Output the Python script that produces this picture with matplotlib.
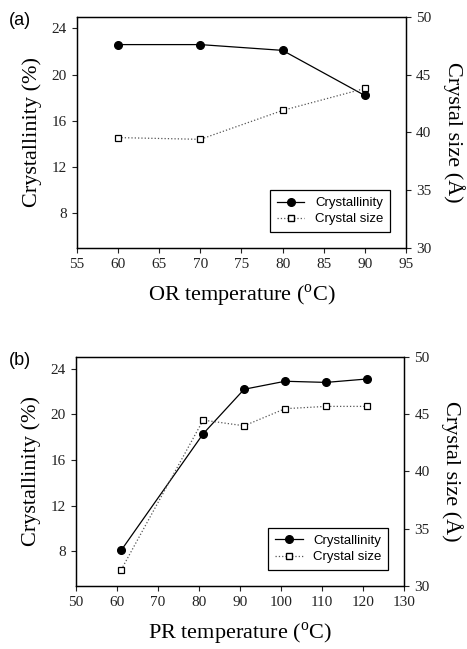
import matplotlib.pyplot as plt
from matplotlib.lines import Line2D

# (a) OR temperature
or_temp = [60, 70, 80, 90]
or_cryst = [22.6, 22.6, 22.1, 18.2]
or_size = [39.55, 39.4, 41.9, 43.8]

# (b) PR temperature
pr_temp = [61, 81, 91, 101, 111, 121]
pr_cryst = [8.1, 18.3, 22.2, 22.9, 22.8, 23.1]
pr_size = [31.4, 44.5, 44.0, 45.5, 45.7, 45.7]

serif = ['Liberation Serif', 'DejaVu Serif']
sans = ['Liberation Sans', 'DejaVu Sans']

plt.rcParams['mathtext.fontset'] = 'custom'
plt.rcParams['mathtext.rm'] = 'Liberation Serif'

fig = plt.figure(figsize=(4.67, 6.49), dpi=100)


def panel(rect, x, cryst, size, xlim, xticks, xlabel, tag):
    ax = fig.add_axes(rect)
    ax2 = ax.twinx()
    ax.plot(x, cryst, '-', color='black', lw=0.9, marker='o', ms=5.5,
            mfc='black', mec='black', zorder=3)
    ax2.plot(x, size, ':', color='#555555', lw=0.9, marker='s', ms=4.5,
             mfc='white', mec='black', mew=0.9, zorder=3)
    ax.set_xlim(*xlim)
    ax.set_xticks(xticks)
    ax.set_ylim(5, 25)
    ax.set_yticks([8, 12, 16, 20, 24])
    ax2.set_ylim(30, 50)
    ax2.set_yticks([30, 35, 40, 45, 50])
    for a in (ax, ax2):
        a.tick_params(direction='out', length=3.5, width=0.8, labelsize=11,
                      pad=4, colors='#222222')
        for lab in a.get_xticklabels() + a.get_yticklabels():
            lab.set_family(serif)
        for s in a.spines.values():
            s.set_linewidth(0.9)
    ax.set_xlabel(xlabel, family=serif, fontsize=16, labelpad=8)
    ax.set_ylabel('Crystallinity (%)', family=serif, fontsize=16, labelpad=7)
    ax2.set_ylabel('Crystal size (\u00c5)', family=serif, fontsize=16,
                   rotation=270, labelpad=24)
    h = [Line2D([], [], color='black', lw=0.9, marker='o', ms=5.5),
         Line2D([], [], color='#555555', ls=':', lw=0.9, marker='s', ms=4.5,
                mfc='white', mec='black')]
    leg = ax2.legend(h, ['Crystallinity', 'Crystal size'], loc='lower right',
                     prop={'family': sans, 'size': 9.5}, fancybox=False,
                     edgecolor='black', framealpha=1, borderaxespad=1.2,
                     handlelength=2.1, borderpad=0.5, labelspacing=0.3)
    leg.get_frame().set_linewidth(0.9)
    fig.text(rect[0] - 0.145, rect[1] + rect[3] + 0.008, tag, family=sans,
             fontsize=13, va='top')


panel([0.165, 0.618, 0.704, 0.356], or_temp, or_cryst, or_size,
      (55, 95), range(55, 96, 5), 'OR temperature ($^{\\rm o}$C)', '(a)')
panel([0.163, 0.0975, 0.702, 0.352], pr_temp, pr_cryst, pr_size,
      (50, 130), range(50, 131, 10), 'PR temperature ($^{\\rm o}$C)', '(b)')

fig.savefig('out.png', dpi=100)
